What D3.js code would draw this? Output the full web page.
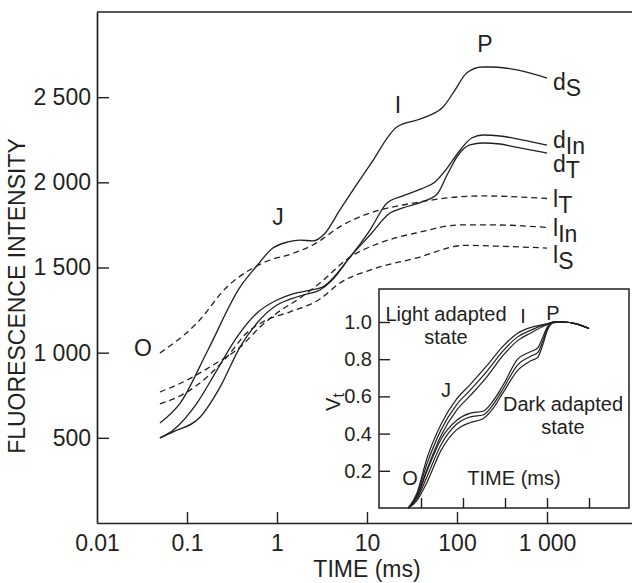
<!DOCTYPE html>
<html>
<head>
<meta charset="utf-8">
<script src="https://cdn.jsdelivr.net/npm/d3@7"></script>
<style>
  html, body { margin: 0; padding: 0; background: #fff; }
  svg { display: block; }
  text { font-family: "Liberation Sans", Arial, Helvetica, sans-serif; fill: #231f20; }
</style>
</head>
<body>
<svg id="chart" width="632" height="583"></svg>
<script>
// ---------- DATA (time in ms, fluorescence intensity) ----------
const xTicks = [0.01, 0.1, 1, 10, 100, 1000];
const yTicks = [500, 1000, 1500, 2000, 2500];

const dS  = [[0.05,587],[0.084,704],[0.171,1016],[0.39,1386],[0.57,1497],[0.9,1614],[1.32,1650],[1.8,1661],[2.5,1656],[3.4,1700],[5,1838],[10.8,2102],[21.5,2325],[36,2366],[48,2390],[70,2442],[95,2542],[128,2642],[190,2677],[250,2677],[464,2660],[1000,2612]];
const dIn = [[0.05,500],[0.07,545],[0.129,704],[0.215,898],[0.36,1092],[0.6,1233],[1.0,1309],[1.5,1345],[2.5,1370],[3.2,1385],[6.5,1562],[10.8,1720],[16.7,1879],[25,1920],[40,1962],[57,2002],[77,2080],[100,2165],[147,2262],[194,2278],[300,2272],[420,2260],[1000,2219]];
const dT  = [[0.05,500],[0.07,535],[0.14,622],[0.233,798],[0.388,1033],[0.6,1174],[1.0,1280],[1.32,1309],[2.0,1340],[3.0,1368],[4.0,1420],[6.5,1562],[10.8,1691],[18,1820],[25,1850],[41,1885],[60,1930],[77,2040],[100,2150],[139,2220],[194,2231],[300,2225],[420,2210],[1000,2172]];
const lT  = [[0.05,998],[0.129,1174],[0.278,1386],[0.54,1497],[0.84,1544],[1.32,1573],[2.5,1632],[5.4,1750],[10.8,1820],[25,1867],[38.8,1885],[100,1914],[200,1920],[500,1914],[1000,1905]];
const lIn = [[0.05,769],[0.1,839],[0.195,928],[0.39,1033],[0.65,1151],[1.0,1233],[1.8,1321],[3.0,1409],[6.5,1562],[13.9,1644],[38.8,1708],[108,1750],[250,1750],[1000,1735]];
const lS  = [[0.05,699],[0.1,769],[0.167,857],[0.278,975],[0.46,1115],[0.77,1192],[1.4,1240],[3.0,1315],[5.0,1409],[10.8,1485],[35,1555],[123,1630],[300,1625],[1000,1614]];

const seriesNames = ["d", "d", "d", "l", "l", "l"];
const seriesSubs  = ["S", "In", "T", "T", "In", "S"];

// ---------- inset DATA (time in ms, relative variable fluorescence Vt) ----------
const insetYTicks = [0.2, 0.4, 0.6, 0.8, 1.0];
const insetXTicks = [0.1, 1, 10, 100, 1000];
const light1 = [[0.05,0],[0.08,0.08],[0.14,0.27],[0.3,0.45],[0.7,0.585],[1.5,0.665],[3.7,0.765],[9,0.87],[20,0.94],[40,0.97],[100,0.99],[150,1.0],[250,1.0],[500,0.99],[1000,0.965]];
const light2 = [[0.05,0],[0.08,0.07],[0.14,0.24],[0.3,0.42],[0.7,0.555],[1.5,0.635],[3.7,0.735],[9,0.845],[20,0.92],[40,0.955],[100,0.99],[150,1.0],[250,1.0],[500,0.99],[1000,0.965]];
const light3 = [[0.05,0],[0.08,0.06],[0.14,0.21],[0.3,0.39],[0.7,0.525],[1.5,0.605],[3.7,0.705],[9,0.82],[20,0.9],[40,0.94],[100,0.985],[150,1.0],[250,1.0],[500,0.99],[1000,0.965]];
const dark1  = [[0.05,0],[0.08,0.06],[0.14,0.2],[0.3,0.37],[0.7,0.47],[1.5,0.51],[3,0.52],[5,0.57],[9,0.66],[20,0.8],[40,0.84],[60,0.86],[80,0.92],[100,0.97],[140,1.0],[250,1.0],[500,0.99],[1000,0.965]];
const dark2  = [[0.05,0],[0.08,0.05],[0.14,0.17],[0.3,0.34],[0.7,0.45],[1.5,0.49],[3,0.5],[5,0.55],[9,0.64],[20,0.77],[40,0.815],[60,0.835],[80,0.9],[100,0.96],[140,1.0],[250,1.0],[500,0.99],[1000,0.965]];
const dark3  = [[0.05,0],[0.08,0.04],[0.14,0.14],[0.3,0.31],[0.7,0.42],[1.5,0.46],[3,0.48],[5,0.53],[9,0.62],[20,0.74],[40,0.79],[60,0.81],[80,0.88],[100,0.95],[140,0.995],[250,1.0],[500,0.99],[1000,0.965]];

// ---------- DRAW ----------
const svg = d3.select("#chart");
const ink = "#231f20";
const FS = 23;    // main font size
const IFS = 20;   // inset font size

const x = d3.scaleLog().domain([0.01, 10000]).range([97, 637]);
const y = d3.scaleLinear().domain([0, 3000]).range([523, 12]);

const spaced = d => d3.format(",")(d).replace(/,/g, " ");

// frame top
svg.append("line").attr("x1", x(0.01)).attr("x2", x(10000)).attr("y1", y(3000)).attr("y2", y(3000))
  .attr("stroke", ink).attr("stroke-width", 1.7);

const gy = svg.append("g").attr("transform", `translate(${x(0.01)},0)`)
  .call(d3.axisLeft(y).tickValues(yTicks).tickSizeInner(-12).tickSizeOuter(0).tickPadding(6).tickFormat(spaced));
const gx = svg.append("g").attr("transform", `translate(0,${y(0)})`)
  .call(d3.axisBottom(x).tickValues(xTicks).tickSizeInner(-11).tickSizeOuter(0).tickPadding(12)
    .tickFormat(d => d >= 1000 ? spaced(d) : String(d)));
[gx, gy].forEach(g => {
  g.selectAll("path.domain").attr("stroke", ink).attr("stroke-width", 1.7);
  g.selectAll(".tick line").attr("stroke", ink).attr("stroke-width", 1.4);
  g.selectAll(".tick text").attr("font-size", FS).attr("fill", ink)
    .attr("font-family", '"Liberation Sans", Arial, sans-serif');
});
gx.selectAll(".tick").filter(d => d === 0.01).select("line").remove();

svg.append("text").attr("transform", "translate(25,296) rotate(-90)")
  .attr("text-anchor", "middle").attr("font-size", FS).text("FLUORESCENCE INTENSITY");
svg.append("text").attr("x", 367).attr("y", 577).attr("text-anchor", "middle")
  .attr("font-size", FS).text("TIME (ms)");

const line = d3.line().x(d => x(d[0])).y(d => y(d[1])).curve(d3.curveMonotoneX);
const allSeries = [dS, dIn, dT, lT, lIn, lS];
const labelDy = [12, 3, 19, 8, 9, 15];
allSeries.forEach((s, i) => {
  const dashed = i >= 3;
  svg.append("path").datum(s).attr("d", line).attr("fill", "none").attr("stroke", ink)
    .attr("stroke-width", 1.3).attr("stroke-dasharray", dashed ? "6,4" : null);
  const last = s[s.length - 1];
  const t = svg.append("text").attr("x", x(last[0]) + 6).attr("y", y(last[1]) + labelDy[i]).attr("font-size", FS);
  t.append("tspan").text(seriesNames[i]);
  t.append("tspan").attr("dy", 6).text(seriesSubs[i]);
});

// phase letters
[["O", 143, 356], ["J", 278, 225], ["I", 398, 113], ["P", 485, 52]].forEach(([s, px, py]) => {
  svg.append("text").attr("x", px).attr("y", py).attr("text-anchor", "middle").attr("font-size", FS).text(s);
});

// ---------- INSET ----------
const ix = d3.scaleLog().domain([0.01, 10000]).range([379, 631]);
const iy = d3.scaleLinear().domain([0, 1]).range([508, 322]);
const box = { x0: 379, x1: 629, y0: 289, y1: 508 };
svg.append("rect").attr("x", box.x0).attr("y", box.y0).attr("width", box.x1 - box.x0).attr("height", box.y1 - box.y0)
  .attr("fill", "#fff").attr("stroke", ink).attr("stroke-width", 1.5);

const igy = svg.append("g").attr("transform", `translate(${box.x0},0)`)
  .call(d3.axisLeft(iy).tickValues(insetYTicks).tickSizeInner(-11).tickSizeOuter(0).tickPadding(7).tickFormat(d3.format(".1f")));
const igx = svg.append("g").attr("transform", `translate(0,${box.y1})`)
  .call(d3.axisBottom(ix).tickValues(insetXTicks).tickSizeInner(-10).tickSizeOuter(0).tickFormat(""));
[igx, igy].forEach(g => {
  g.selectAll("path.domain").remove();
  g.selectAll(".tick line").attr("stroke", ink).attr("stroke-width", 1.4);
  g.selectAll(".tick text").attr("font-size", 20).attr("fill", ink)
    .attr("font-family", '"Liberation Sans", Arial, sans-serif');
});

const iline = d3.line().x(d => ix(d[0])).y(d => iy(d[1])).curve(d3.curveMonotoneX);
[light1, light2, light3, dark1, dark2, dark3].forEach(s => {
  svg.append("path").datum(s).attr("d", iline).attr("fill", "none").attr("stroke", ink).attr("stroke-width", 1.2);
});

const vt = svg.append("text").attr("transform", "translate(340,402) rotate(-90)").attr("text-anchor", "middle").attr("font-size", 20);
vt.append("tspan").text("V");
vt.append("tspan").attr("dy", 4).attr("font-size", 16).text("t");

// two-line state labels
[[["Light adapted", "state"], 446, 321], [["Dark adapted", "state"], 563, 411]].forEach(([lines, px, py]) => {
  const t = svg.append("text").attr("x", px).attr("y", py).attr("text-anchor", "middle").attr("font-size", IFS);
  lines.forEach((l, k) => t.append("tspan").attr("x", px).attr("dy", k === 0 ? 0 : 23).text(l));
});

[["J", 446, 397], ["I", 523, 323], ["P", 553, 320], ["O", 410, 485], ["TIME (ms)", 514, 485]]
 .forEach(([s, px, py]) => {
  svg.append("text").attr("x", px).attr("y", py).attr("text-anchor", "middle").attr("font-size", IFS).text(s);
});
</script>
</body>
</html>
